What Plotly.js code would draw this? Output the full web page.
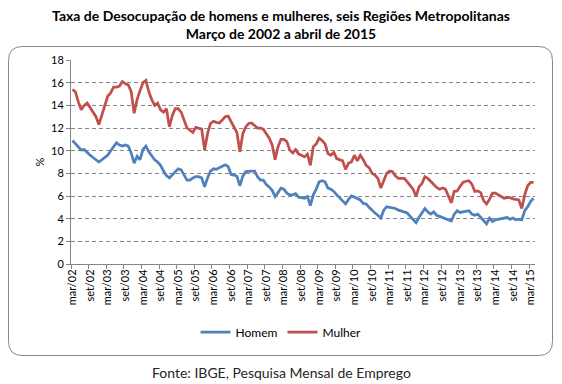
<!DOCTYPE html>
<html>
<head>
<meta charset="utf-8">
<script src="https://cdn.plot.ly/plotly-3.0.1.min.js"></script>
<style>
  html, body { margin: 0; padding: 0; background: #ffffff; }
  #chart { width: 562px; height: 384px; }
</style>
</head>
<body>
<div id="chart"></div>
<script>
// ---- Data (monthly, mar/2002 to apr/2015) ----
var monthNames = ["jan","fev","mar","abr","mai","jun","jul","ago","set","out","nov","dez"];
var startYear = 2002, startMonth = 2, nMonths = 158; // mar/02 .. abr/15

var homem = [
  10.9,10.6,10.3,10.05,10.1,9.8,9.6,9.4,9.2,9.0,
  9.2,9.4,9.6,10.0,10.4,10.7,10.5,10.4,10.5,10.4,
  9.8,8.9,9.5,9.2,10.1,10.4,9.9,9.5,9.2,9.0,
  8.7,8.2,7.8,7.6,7.85,8.1,8.4,8.3,7.9,7.4,
  7.4,7.6,7.7,7.7,7.6,6.8,7.6,8.2,8.4,8.35,
  8.5,8.6,8.75,8.6,7.9,7.85,7.75,6.9,7.75,8.15,
  8.2,8.2,8.2,7.7,7.4,7.4,7.0,6.8,6.5,5.95,
  6.3,6.7,6.6,6.25,6.1,6.1,6.2,5.9,5.85,5.8,
  5.95,5.15,6.1,6.6,7.25,7.35,7.25,6.7,6.6,6.4,
  6.1,5.8,5.6,5.3,5.7,6.0,5.9,5.8,5.65,5.35,
  5.3,5.0,4.7,4.5,4.3,4.05,4.75,5.05,5.0,4.95,
  4.9,4.75,4.65,4.6,4.5,4.2,3.9,3.65,4.1,4.5,
  4.9,4.6,4.4,4.6,4.3,4.2,4.1,4.0,3.9,3.8,
  4.4,4.7,4.55,4.6,4.65,4.7,4.4,4.3,4.4,4.1,
  3.8,3.55,4.05,3.75,3.9,3.95,3.95,4.0,4.1,3.95,
  4.05,3.9,3.95,3.9,4.7,5.05,5.5,5.8
];

var mulher = [
  15.4,15.2,14.3,13.6,14.0,14.2,13.8,13.4,13.0,12.3,
  13.1,14.0,14.8,15.1,15.6,15.6,15.7,16.1,15.9,15.8,
  15.2,13.3,14.5,15.3,16.0,16.2,15.2,14.5,14.0,14.2,
  13.6,13.4,13.7,12.1,13.1,13.7,13.7,13.4,12.6,12.0,
  11.8,11.6,12.05,12.0,11.9,10.05,11.5,12.4,12.6,12.5,
  12.45,12.7,13.0,13.05,12.55,12.1,11.6,9.9,11.5,12.1,
  12.4,12.45,12.25,12.0,12.0,11.9,11.5,11.1,10.5,9.2,
  10.35,11.0,11.0,10.8,10.05,9.8,10.1,9.7,9.6,9.45,
  9.7,8.7,10.35,10.6,11.1,10.9,10.6,9.75,9.6,9.85,
  9.3,9.2,9.1,8.35,8.9,9.0,9.6,9.1,9.6,9.2,
  8.7,8.5,8.0,7.85,7.55,6.7,7.4,8.0,8.2,8.15,
  7.75,7.55,7.55,7.55,7.25,6.95,6.6,5.95,6.8,7.1,
  7.7,7.55,7.25,6.95,6.75,6.6,6.7,6.6,5.95,5.4,
  6.4,6.45,6.85,7.2,7.3,7.35,7.05,6.4,6.45,6.3,
  5.6,5.3,5.7,6.25,6.25,6.1,5.95,5.8,5.85,5.85,
  5.75,5.7,5.65,4.9,6.1,6.9,7.2,7.2
];

var yTicks = [0,2,4,6,8,10,12,14,16,18];

// category labels "mar/02", "abr/02", ...
var meses = [];
for (var i = 0; i < nMonths; i++) {
  var mi = (startMonth + i) % 12;
  var yr = startYear + Math.floor((startMonth + i) / 12);
  meses.push(monthNames[mi] + "/" + String(yr % 100).padStart(2, "0"));
}

// ---- Layout helpers (pixel -> paper) ----
var W = 562, H = 384;
var mL = 71, mR = 27, mT = 60, mB = 120;
var pw = W - mL - mR, ph = H - mT - mB;
function px(x) { return (x - mL) / pw; }
function py(y) { return (H - mB - y) / ph; }

// rounded border path
var bx0 = 8.5, bx1 = 552.5, by0 = 46.5, by1 = 355.5, r = 14;
function P(x, y) { return px(x).toFixed(5) + "," + py(y).toFixed(5); }
var borderPath =
  "M" + P(bx0 + r, by0) +
  " L" + P(bx1 - r, by0) +
  " Q" + P(bx1, by0) + " " + P(bx1, by0 + r) +
  " L" + P(bx1, by1 - r) +
  " Q" + P(bx1, by1) + " " + P(bx1 - r, by1) +
  " L" + P(bx0 + r, by1) +
  " Q" + P(bx0, by1) + " " + P(bx0, by1 - r) +
  " L" + P(bx0, by0 + r) +
  " Q" + P(bx0, by0) + " " + P(bx0 + r, by0) + " Z";

var FONT = "Lato, 'Open Sans', 'DejaVu Sans', sans-serif";
var axisGray = "#868686";

var traces = [
  {
    x: meses, y: homem, name: "Homem", type: "scatter", mode: "lines",
    line: { color: "#4F81BD", width: 2.75 }
  },
  {
    x: meses, y: mulher, name: "Mulher", type: "scatter", mode: "lines",
    line: { color: "#C0504D", width: 2.75 }
  }
];

var layout = {
  width: W, height: H,
  margin: { l: mL, r: mR, t: mT, b: mB, pad: 0 },
  paper_bgcolor: "#ffffff",
  plot_bgcolor: "#ffffff",
  font: { family: FONT, size: 11, color: "#000000" },
  title: {
    text: "Taxa de Desocupação de homens e mulheres, seis Regiões Metropolitanas<br>Março de 2002 a abril de 2015",
    font: { family: FONT, size: 14, color: "#000000", weight: "bold" },
    x: 0.5, xref: "container", xanchor: "center",
    y: 1 - 21 / H, yref: "container", yanchor: "middle"
  },
  xaxis: {
    type: "category",
    categoryorder: "array",
    categoryarray: meses,
    range: [-0.5, nMonths - 0.5],
    tickmode: "linear", tick0: 0, dtick: 6,
    tickson: "boundaries",
    tickangle: -90,
    ticks: "outside", ticklen: 4, tickcolor: axisGray, tickwidth: 1,
    showline: true, linecolor: axisGray, linewidth: 1,
    showgrid: false, zeroline: false,
    tickfont: { family: FONT, size: 11, color: "#000000" },
    fixedrange: true
  },
  yaxis: {
    range: [0, 18],
    tickmode: "array", tickvals: yTicks,
    ticks: "outside", ticklen: 4, tickcolor: axisGray, tickwidth: 1,
    showline: true, linecolor: axisGray, linewidth: 1,
    showgrid: true, gridcolor: axisGray, gridwidth: 1, griddash: "4px,3px",
    zeroline: false,
    tickfont: { family: FONT, size: 11, color: "#000000" },
    title: { text: "%", font: { family: FONT, size: 11, color: "#000000" }, standoff: 4 },
    fixedrange: true
  },
  showlegend: true,
  legend: {
    orientation: "h",
    x: px(281), xanchor: "center",
    y: py(332), yanchor: "middle",
    font: { family: FONT, size: 12, color: "#000000" },
    bgcolor: "rgba(0,0,0,0)"
  },
  annotations: [
    {
      text: "Fonte: IBGE, Pesquisa Mensal de Emprego",
      xref: "paper", yref: "paper",
      x: px(281), y: py(372),
      xanchor: "center", yanchor: "middle",
      showarrow: false,
      font: { family: FONT, size: 14, color: "#262626" }
    }
  ],
  shapes: [
    {
      type: "path", xref: "paper", yref: "paper",
      path: borderPath,
      line: { color: axisGray, width: 1 },
      fillcolor: "rgba(0,0,0,0)",
      layer: "below"
    }
  ]
};

Plotly.newPlot("chart", traces, layout, { displayModeBar: false, staticPlot: true });
</script>
</body>
</html>
